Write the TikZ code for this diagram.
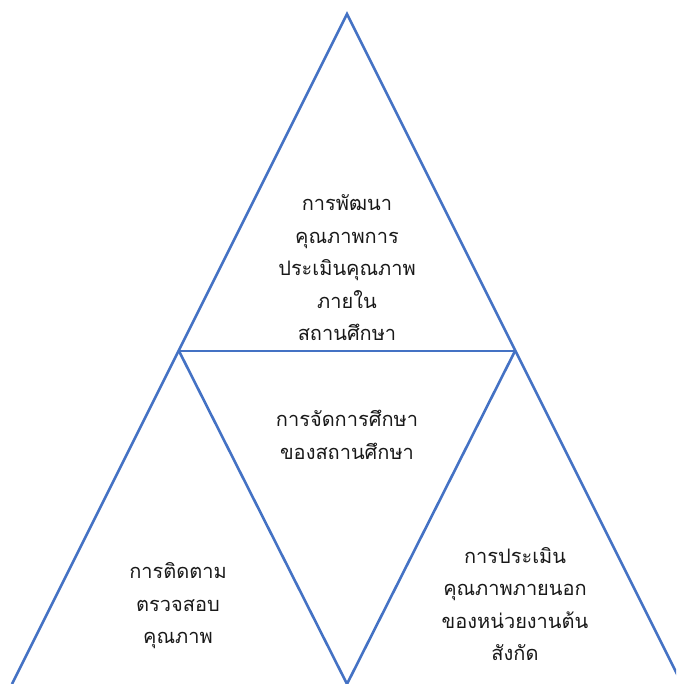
\documentclass[tikz,border=0pt]{standalone}
\usepackage{fontspec}
\newfontfamily\thaifont[Script=Thai]{Loma}
\usepackage{xcolor}
\usepackage{tikz}
\definecolor{edgeblue}{HTML}{4472C4}

\begin{document}
\begin{tikzpicture}[
      x=1pt, y=-1pt,
      side/.style={draw=edgeblue, line width=2.6pt},
      txt/.style={align=center, font=\thaifont\fontsize{20}{32.5}\selectfont, text=black!90}
    ]
      \useasboundingbox (0,0) rectangle (676,684);
      \clip (0,0) rectangle (676,684);
      \coordinate (apex) at (347,14);
      \coordinate (midL) at (179,351);
      \coordinate (midR) at (515,351);
      \coordinate (botL) at (12,684);
      \coordinate (botM) at (347,684);
      \coordinate (botR) at (682,684);
      \draw[side] (botL) -- (apex) -- (botR);
      \draw[side] (midL) -- (midR);
      \draw[side] (midL) -- (botM) -- (midR);
      \node[txt] (top) at (347,268) {การพัฒนา\\คุณภาพการ\\ประเมินคุณภาพ\\ภายใน\\สถานศึกษา};
      \node[txt] (centre) at (347,435) {การจัดการศึกษา\\ของสถานศึกษา};
      \node[txt] (left) at (178,606) {การติดตาม\\ตรวจสอบ\\คุณภาพ};
      \node[txt] (right) at (515,604) {การประเมิน\\คุณภาพภายนอก\\ของหน่วยงานต้น\\สังกัด};
    \end{tikzpicture}
\end{document}
